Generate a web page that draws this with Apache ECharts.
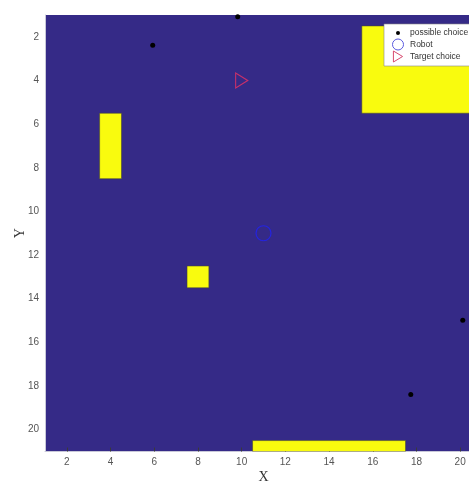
<!DOCTYPE html>
<html>
<head>
<meta charset="utf-8">
<script src="https://cdn.jsdelivr.net/npm/echarts@6/dist/echarts.min.js"></script>
<style>html,body{margin:0;padding:0;background:#fff;}#c{width:469px;height:482px;}</style>
</head>
<body>
<div id="c"></div>
<script>
// Obstacles as rectangles: [xMin, xMax, yMin, yMax]
const obstacleXMin = [3.5, 7.5, 15.5, 10.5];
const obstacleXMax = [4.5, 8.5, 21.5, 17.5];
const obstacleYMin = [5.5, 12.5, 1.5, 20.5];
const obstacleYMax = [8.5, 13.5, 5.5, 21.5];
// Possible choices
const choiceX = [5.93, 9.82, 20.12, 17.74];
const choiceY = [2.39, 1.08, 14.99, 18.39];
// Robot
const robotX = [11];
const robotY = [11];
// Target choice
const targetX = [10];
const targetY = [4];
const legendNames = ['possible choice', 'Robot', 'Target choice'];

const rects = obstacleXMin.map((v, i) => [v, obstacleXMax[i], obstacleYMin[i], obstacleYMax[i]]);
const zip = (a, b) => a.map((v, i) => [v, b[i]]);

const chart = echarts.init(document.getElementById('c'));
const labelStyle = { fontFamily: 'Liberation Sans, Arial, sans-serif', fontSize: 10, color: '#555' };
const triPath = 'path://M0,0L10,6L0,12Z';
chart.setOption({
  animation: false,
  grid: { left: 45, top: 15, width: 437, height: 436.5, show: true, backgroundColor: '#352A87', borderWidth: 0, containLabel: false, outerBoundsMode: 'none' },
  xAxis: {
    type: 'value', min: 1, max: 21, splitNumber: 10,
    name: 'X', nameLocation: 'middle', nameGap: 19, nameMoveOverlap: false,
    nameTextStyle: { fontFamily: 'Liberation Serif, Times New Roman, serif', fontSize: 14, color: '#333' },
    axisLine: { show: true, lineStyle: { color: '#c8c8d8', width: 1 } },
    axisTick: { show: true, inside: true, length: 4, lineStyle: { color: '#3a3a3a' } },
    axisLabel: Object.assign({ margin: 6, showMinLabel: false, showMaxLabel: false }, labelStyle),
    splitLine: { show: false }
  },
  yAxis: {
    type: 'value', min: 1, max: 21, splitNumber: 10, inverse: true,
    name: 'Y', nameLocation: 'middle', nameGap: 18, nameMoveOverlap: false,
    nameTextStyle: { fontFamily: 'Liberation Serif, Times New Roman, serif', fontSize: 14, color: '#333' },
    axisLine: { show: true, lineStyle: { color: '#c8c8d8', width: 1 } },
    axisTick: { show: false },
    axisLabel: Object.assign({ margin: 6, showMinLabel: false, showMaxLabel: false }, labelStyle),
    splitLine: { show: false }
  },
  legend: {
    orient: 'vertical', left: 384, top: 24,
    backgroundColor: '#fff', borderColor: '#888', borderWidth: 0.6,
    padding: [3.5, 30, 3.5, 7], itemGap: 0, itemWidth: 14, itemHeight: 11,
    textStyle: { fontFamily: 'Liberation Sans, Arial, sans-serif', fontSize: 8.5, color: '#333', padding: [0,0,0,0] },
    data: [
      { name: legendNames[0], icon: 'path://M0,0M14,11M5,5.5a2,2 0 1,0 4,0a2,2 0 1,0 -4,0', itemStyle: { color: '#000', borderWidth: 0 } },
      { name: legendNames[1], icon: 'circle', itemStyle: { color: 'rgba(0,0,0,0)', borderColor: '#5a5ae0', borderWidth: 1 } },
      { name: legendNames[2], icon: triPath, itemStyle: { color: 'rgba(0,0,0,0)', borderColor: '#d84a70', borderWidth: 1 } }
    ]
  },
  series: [
    {
      type: 'custom', name: 'obstacles', silent: true, clip: true,
      data: rects,
      renderItem: function (params, api) {
        const p0 = api.coord([api.value(0), api.value(2)]);
        const p1 = api.coord([api.value(1), api.value(3)]);
        const shape = echarts.graphic.clipRectByRect(
          { x: Math.min(p0[0], p1[0]), y: Math.min(p0[1], p1[1]), width: Math.abs(p1[0] - p0[0]), height: Math.abs(p1[1] - p0[1]) },
          { x: params.coordSys.x, y: params.coordSys.y, width: params.coordSys.width, height: params.coordSys.height });
        return shape && { type: 'rect', shape: shape, style: { fill: '#F9FB0E', stroke: 'rgba(70,70,50,0.7)', lineWidth: 0.8 } };
      },
      encode: { x: [0, 1], y: [2, 3] },
      z: 1
    },
    {
      type: 'scatter', name: legendNames[0], data: zip(choiceX, choiceY),
      symbol: 'circle', symbolSize: 5, itemStyle: { color: '#000', opacity: 1 }, z: 3
    },
    {
      type: 'scatter', name: legendNames[1], data: zip(robotX, robotY),
      symbol: 'circle', symbolSize: 15,
      itemStyle: { color: 'rgba(0,0,0,0)', borderColor: '#2424e0', borderWidth: 1.2, opacity: 1 }, z: 3
    },
    {
      type: 'scatter', name: legendNames[2], data: zip(targetX, targetY),
      symbol: triPath, symbolSize: [12, 15],
      itemStyle: { color: 'rgba(0,0,0,0)', borderColor: '#c8306a', borderWidth: 1.2, opacity: 1 }, z: 3
    }
  ]
});
</script>
</body>
</html>
